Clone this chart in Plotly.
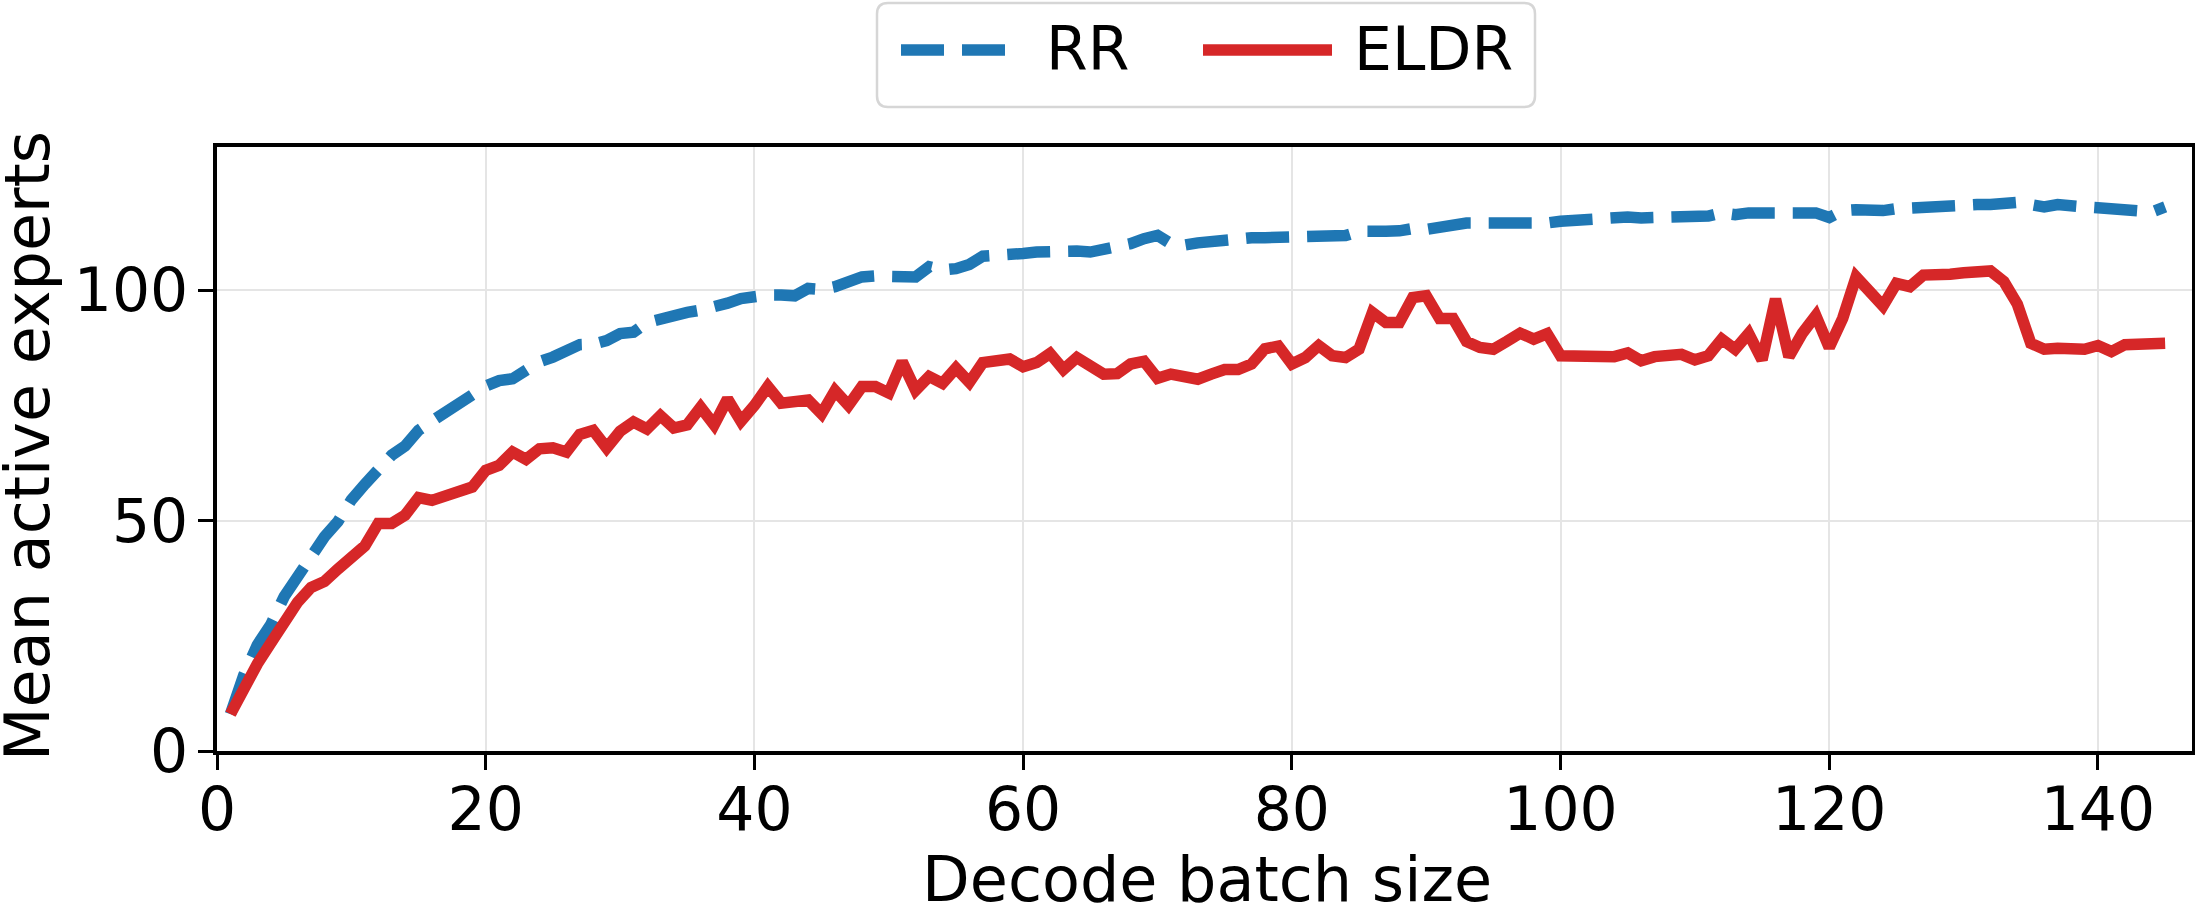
import plotly.graph_objects as go

# ---------------- data ----------------
batch_size = list(range(1, 146))

rr = [8.0, 16.5, 23.0, 27.4, 33.5, 37.9, 42.2, 46.5, 49.8, 54.5,
      57.9, 61.5, 64.2, 66.2, 69.6, 71.6, 73.7, 75.5, 77.3, 79.2,
      80.4, 80.8, 82.7, 84.5, 85.5, 86.7, 88.2, 88.3, 89.1, 90.6,
      90.9, 93.0, 93.9, 94.8, 95.2, 95.7, 96.3, 97.2, 98.2, 98.8,
      99.0, 99.0, 98.8, 100.4, 100.2, 100.8, 101.7, 102.9, 103.1, 103.1,
      103.3, 102.9, 105.1, 104.4, 104.7, 105.6, 107.4, 107.4, 107.8, 108.0,
      108.3, 108.5, 108.7, 108.5, 108.3, 108.9, 109.2, 110.1, 111.2, 111.9,
      110.1, 109.8, 110.3, 110.7, 111.0, 111.4, 111.4, 111.4, 111.4, 111.8,
      111.9, 111.9, 111.9, 111.9, 112.8, 112.5, 112.8, 112.9, 113.4, 113.2,
      113.7, 114.6, 114.6, 114.6, 114.6, 114.3, 114.4, 114.2, 114.6, 115.0,
      115.2, 115.5, 115.9, 116.1, 115.9, 115.7, 115.7, 115.9, 115.7, 115.9,
      116.1, 116.8, 116.4, 116.8, 116.8, 116.8, 117.0, 117.0, 116.8, 115.8,
      117.3, 117.5, 117.3, 117.3, 117.7, 117.9, 118.1, 118.6, 118.6, 118.6,
      118.6, 118.6, 118.8, 119.1, 118.6, 118.1, 118.6, 118.1, 118.1, 117.9,
      117.7, 117.7, 117.0, 117.0, 118.1]

eldr = [8.0, 14.0, 18.9, 23.4, 28.3, 32.3, 35.5, 36.8, 39.5, 41.8,
        44.5, 49.4, 49.4, 51.2, 55.0, 54.4, 55.5, 56.2, 57.3, 60.9,
        62.0, 64.9, 63.3, 65.6, 65.8, 64.9, 68.7, 69.6, 65.8, 69.4,
        71.4, 69.9, 72.8, 70.1, 70.8, 74.6, 70.8, 76.4, 71.6, 75.0,
        79.1, 75.5, 75.9, 76.2, 73.2, 78.2, 75.0, 79.1, 79.1, 77.7,
        84.5, 78.3, 81.3, 79.8, 83.1, 80.0, 84.3, 84.5, 85.1, 83.4,
        84.3, 86.3, 82.8, 85.4, 83.6, 81.8, 81.9, 84.0, 84.6, 80.9,
        81.8, 81.0, 80.7, 81.8, 82.8, 82.8, 84.0, 87.3, 87.9, 84.0,
        85.4, 88.0, 85.8, 85.4, 87.2, 95.2, 93.0, 93.0, 98.4, 98.8,
        93.9, 93.9, 88.9, 87.6, 87.2, 88.9, 90.7, 89.4, 90.6, 85.8,
        85.8, 85.2, 85.4, 85.6, 86.4, 84.7, 85.6, 85.8, 86.1, 84.9,
        85.8, 89.4, 87.2, 90.6, 84.9, 98.1, 85.6, 90.7, 94.5, 87.6,
        93.9, 102.9, 99.7, 96.6, 101.5, 100.8, 103.3, 103.1, 103.5, 103.8,
        104.0, 104.2, 101.9, 97.0, 88.5, 87.2, 87.4, 87.3, 87.2, 88.0,
        86.7, 88.2, 88.2, 88.8, 88.5]

series_names = ["RR", "ELDR"]
x_label = "Decode batch size"
y_label = "Mean active experts"

# ---------------- styling ----------------
W, H = 2195, 903
ML, MR, MT, MB = 217, 3, 147, 152
PW, PH = W - ML - MR, H - MT - MB
BLUE, RED = "#1f77b4", "#d62728"
LW = 11.5
DASH = "43px,18px"
FONT = "DejaVu Sans"


def px(x, y):
    """pixel -> paper coordinates (layout helper for legend / titles)"""
    return (x - ML) / PW, (H - MB - y) / PH


fig = go.Figure()
fig.add_trace(go.Scatter(x=batch_size, y=rr, name=series_names[0], mode="lines",
                         line=dict(color=BLUE, width=LW, dash=DASH),
                         showlegend=False))
fig.add_trace(go.Scatter(x=batch_size, y=eldr, name=series_names[1], mode="lines",
                         line=dict(color=RED, width=LW),
                         showlegend=False))

axis_common = dict(showline=True, linecolor="black", linewidth=3.5, mirror=True,
                   ticks="outside", ticklen=15, tickwidth=3, tickcolor="black",
                   showgrid=True, gridcolor="#e5e5e5", gridwidth=2,
                   zeroline=False, tickfont=dict(family=FONT, size=60, color="black"))

fig.update_xaxes(range=[0, 147], tick0=0, dtick=20, ticklabelstandoff=-12, **axis_common)
fig.update_yaxes(range=[0, 131.1], tick0=0, dtick=50, ticklabelstandoff=-2, **axis_common)

# ---------------- custom legend (matplotlib-like) ----------------
bx0, by0, bx1, by1, rad = 877, 3, 1535, 107, 11


def rounded_rect(x0, y0, x1, y1, r):
    def P(x, y):
        a, b = px(x, y)
        return f"{a:.6f},{b:.6f}"
    return (f"M {P(x0 + r, y0)} L {P(x1 - r, y0)} Q {P(x1, y0)} {P(x1, y0 + r)} "
            f"L {P(x1, y1 - r)} Q {P(x1, y1)} {P(x1 - r, y1)} "
            f"L {P(x0 + r, y1)} Q {P(x0, y1)} {P(x0, y1 - r)} "
            f"L {P(x0, y0 + r)} Q {P(x0, y0)} {P(x0 + r, y0)} Z")


shapes = [dict(type="path", xref="paper", yref="paper",
               path=rounded_rect(bx0, by0, bx1, by1, rad),
               line=dict(color="#d6d6d6", width=2.5), fillcolor="white", layer="above")]

ly = 50
for (sx0, sx1, col, dash) in [(901, 1005, BLUE, DASH), (1203, 1332, RED, "solid")]:
    a0, b0 = px(sx0, ly)
    a1, b1 = px(sx1, ly)
    shapes.append(dict(type="line", xref="paper", yref="paper", x0=a0, y0=b0, x1=a1, y1=b1,
                       line=dict(color=col, width=LW, dash=dash), layer="above"))

annotations = []
for name, tx in zip(series_names, [1044, 1352]):
    a, b = px(tx, 49.5)
    annotations.append(dict(text=name, x=a, y=b, xref="paper", yref="paper",
                            xanchor="left", yanchor="middle", showarrow=False,
                            font=dict(family=FONT, size=60, color="black")))

# axis titles
ax_, ay_ = px(1207, 879)
annotations.append(dict(text=x_label, x=ax_, y=ay_, xref="paper", yref="paper",
                        xanchor="center", yanchor="middle", showarrow=False,
                        font=dict(family=FONT, size=62, color="black")))
ax_, ay_ = px(27, 446)
annotations.append(dict(text=y_label, x=ax_, y=ay_, xref="paper", yref="paper",
                        xanchor="center", yanchor="middle", showarrow=False, textangle=-90,
                        font=dict(family=FONT, size=62, color="black")))

fig.update_layout(width=W, height=H, margin=dict(l=ML, r=MR, t=MT, b=MB, autoexpand=False),
                  plot_bgcolor="white", paper_bgcolor="white",
                  font=dict(family=FONT, color="black"),
                  shapes=shapes, annotations=annotations, showlegend=False)

fig.write_html("out.html")
